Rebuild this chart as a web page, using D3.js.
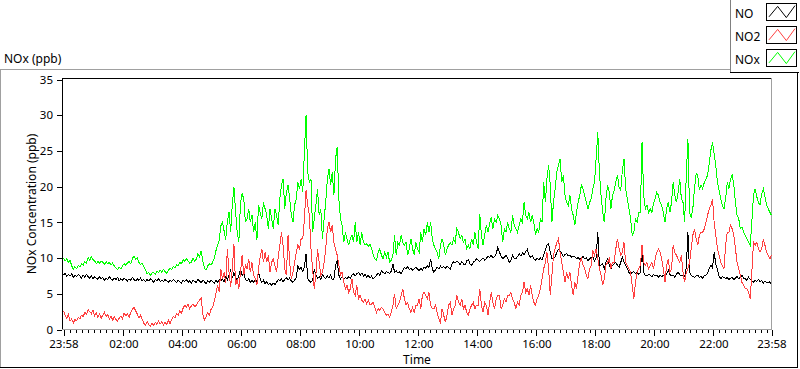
<!DOCTYPE html>
<html><head><meta charset="utf-8">
<script src="https://cdn.jsdelivr.net/npm/d3@7"></script>
<style>
html,body{margin:0;padding:0;background:#fff;}
svg{display:block;font-family:"Noto Sans",sans-serif;}
</style></head><body>
<svg id="chart" width="800" height="369"></svg>
<script>
// ---------- DATA ----------
const seriesNames = ["NO", "NO2", "NOx"];
const seriesColors = ["#000000", "#ff4040", "#00ff00"];
const startTime = "23:58";          // first sample (day 1)
const sampleSeconds = 200;          // spacing of samples
const yTicks = [0, 5, 10, 15, 20, 25, 30, 35];
const xTickLabels = ["23:58", "02:00", "04:00", "06:00", "08:00", "10:00", "12:00",
                     "14:00", "16:00", "18:00", "20:00", "22:00", "23:58"];
const yTitle = "NOx Concentration (ppb)";
const xTitle = "Time";
const panelTitle = "NOx (ppb)";

const noValues = [
7.6,7.9,7.4,7.7,7.5,7.8,7.3,7.6,7.4,7.7,7.5,7.2,7.6,7.3,7.7,7.4,7.2,7.5,7.1,7.4,
7.2,7.0,7.4,7.1,7.3,6.9,7.2,7.0,7.4,7.1,6.9,7.2,7.0,7.3,6.8,7.1,6.9,7.2,7.0,6.8,
7.1,6.9,7.3,7.0,6.8,7.1,6.9,7.2,6.8,7.0,6.7,7.0,6.8,7.1,6.9,6.6,7.0,6.8,7.1,6.7,
6.9,6.7,7.0,6.8,6.6,6.9,6.7,7.0,6.8,6.6,6.9,6.7,6.5,6.9,6.7,7.0,6.6,6.8,6.5,6.9,
6.7,6.6,7.0,6.8,6.5,6.9,6.7,6.4,6.8,6.6,6.9,6.7,6.5,6.9,6.6,7.0,6.8,7.1,6.7,7.4,
7.0,7.6,8.3,7.2,8.0,7.3,6.9,7.6,
8.5,7.6,7.9,7.0,6.8,7.1,6.6,6.9,6.6,7.0,6.7,8.0,7.1,6.6,6.9,6.4,6.7,6.3,6.5,6.2,
6.5,6.3,6.6,7.0,6.8,7.1,6.7,7.0,7.3,6.9,7.2,6.8,6.6,6.9,7.3,8.9,8.4,8.7,8.1,8.8,
10.6,7.1,6.8,6.6,6.9,8.4,7.6,7.2,7.4,7.0,7.7,7.3,7.1,7.5,7.2,7.6,7.0,7.1,9.0,9.7,
7.6,7.1,7.4,7.0,7.3,7.1,7.4,7.2,7.6,7.8,7.5,7.8,8.0,7.6,7.9,7.5,7.7,7.3,7.6,7.2,
7.5,7.1,7.3,7.6,7.9,7.6,8.2,8.0,7.8,8.1,8.0,7.8,8.2,9.2,8.0,8.2,7.9,8.1,7.8,8.2,
8.7,8.5,8.8,8.4,8.6,8.3,8.5,8.7,
8.5,8.2,8.6,8.3,8.7,8.6,8.9,8.7,9.9,8.5,8.0,8.4,8.7,8.5,8.9,8.6,8.8,8.5,8.9,8.7,
8.4,9.1,9.5,9.3,9.6,9.4,9.1,9.5,9.2,9.0,9.6,9.8,9.2,9.0,9.4,9.6,9.9,9.7,9.5,9.8,
10.0,9.7,9.9,10.3,10.1,10.4,10.0,10.2,10.6,11.5,10.8,10.3,9.9,10.1,10.4,10.0,9.4,9.7,10.4,10.0,
9.9,10.2,10.6,10.3,10.7,10.5,10.9,11.2,10.4,10.1,10.3,9.9,9.7,10.0,9.8,10.0,9.7,10.5,11.1,11.8,
12.0,10.8,9.9,10.0,10.2,10.8,11.2,11.0,10.7,10.2,10.5,10.6,10.3,10.4,10.1,10.3,10.2,9.9,10.1,9.8,
10.0,10.2,9.9,10.0,9.6,9.9,10.1,10.2,
9.6,10.0,13.6,9.0,9.0,9.2,8.5,9.4,9.9,9.0,8.5,9.0,9.2,9.4,9.0,8.7,9.4,10.1,9.4,9.0,
8.5,8.0,7.8,8.0,8.1,7.8,8.0,7.7,8.0,11.8,8.0,7.6,7.5,7.7,7.6,7.4,7.7,7.5,7.6,7.3,
7.6,7.4,7.6,7.3,7.8,8.3,7.7,7.5,7.6,7.3,7.8,8.0,7.7,7.5,7.6,7.4,8.6,13.6,8.0,7.6,
7.4,7.3,7.5,7.6,7.3,7.4,7.2,7.5,7.6,7.9,8.5,9.0,8.6,10.8,9.2,8.4,7.5,7.1,7.4,7.3,
7.1,7.3,7.0,7.2,7.3,7.0,7.2,7.4,7.1,7.3,7.6,7.2,7.1,6.9,7.3,7.0,6.8,6.6,6.9,6.7,
7.0,6.7,6.9,6.5,6.8,6.6,6.5,6.7,6.3
];

const no2Values = [
2.6,2.0,1.6,2.1,1.2,1.5,0.9,1.4,1.2,1.7,1.5,2.0,1.8,2.4,2.1,2.8,2.5,2.2,2.7,1.9,
2.3,1.7,2.2,1.6,2.0,2.4,1.8,2.1,1.5,1.9,1.3,1.8,1.4,1.2,1.6,1.9,1.5,2.3,1.9,2.2,
1.7,2.4,2.8,3.1,2.6,2.2,1.6,2.0,1.4,0.9,0.6,1.1,0.7,0.5,0.9,0.6,1.0,0.7,1.2,0.8,
1.1,0.6,1.0,0.7,1.3,0.8,1.4,1.8,1.6,2.2,2.0,2.6,2.3,3.0,3.4,3.1,3.5,2.9,3.3,3.6,
3.2,3.4,3.8,4.1,4.4,2.2,1.3,1.8,2.4,2.0,2.8,3.1,4.0,5.0,6.2,5.3,8.4,7.1,8.0,6.5,
11.3,8.0,6.0,8.5,12.0,6.2,7.0,5.7,
8.0,10.4,7.6,9.0,8.5,9.9,8.0,9.4,7.6,7.1,6.2,8.5,10.1,11.3,9.4,10.8,9.4,10.4,8.0,9.4,
9.9,9.0,8.0,10.1,11.8,13.6,11.8,8.5,7.6,13.2,9.4,7.1,8.0,9.4,10.8,11.8,11.3,12.7,12.7,15.5,
19.5,17.4,16.0,11.3,8.5,5.7,7.6,11.3,9.4,7.6,8.0,9.4,11.3,14.1,15.0,13.6,14.6,12.2,11.3,10.4,
9.0,7.6,8.0,6.6,5.7,6.2,5.2,5.7,7.1,5.2,4.8,6.2,4.3,4.8,4.1,3.8,4.3,3.6,4.1,3.4,
3.6,3.8,3.1,2.4,2.9,2.7,3.1,2.9,2.4,2.0,2.2,1.7,2.4,3.4,5.0,2.9,3.4,3.8,4.8,5.7,
4.3,3.4,3.8,2.9,2.4,3.1,2.4,3.4,
3.4,4.3,2.9,4.8,5.2,4.8,4.3,5.2,3.4,2.9,2.9,3.4,2.4,1.5,1.0,2.9,2.0,1.0,2.0,3.4,
3.8,2.0,2.9,3.4,4.8,3.8,3.4,4.3,2.9,3.4,2.4,2.0,2.9,3.4,3.8,2.9,3.4,3.4,5.7,3.4,
2.4,3.8,3.4,2.0,3.8,5.2,3.8,2.9,4.3,4.8,4.8,2.9,3.4,4.3,3.8,4.8,4.8,5.2,4.3,3.8,
2.9,3.8,3.4,4.8,5.2,6.6,5.2,5.7,4.8,6.2,4.8,3.8,3.4,4.3,4.8,5.7,7.1,8.5,9.4,10.8,
8.5,4.8,7.6,10.4,11.3,12.2,12.7,10.8,9.4,8.0,6.6,8.0,7.1,8.0,6.2,4.8,6.6,5.7,7.6,9.4,
9.9,9.0,8.5,7.6,7.1,8.5,9.0,11.1,
10.4,11.3,9.9,8.5,7.6,6.2,7.1,9.0,9.4,9.9,8.5,9.4,9.4,11.3,12.7,11.3,10.4,10.8,12.2,9.4,
9.0,8.5,8.0,6.2,4.3,6.6,8.0,8.5,9.0,11.8,9.4,9.0,9.4,8.5,9.0,9.4,8.5,9.9,10.8,11.3,
10.8,9.9,8.5,6.6,9.0,9.9,8.0,8.5,11.8,10.8,10.4,9.9,9.4,10.4,8.0,6.6,8.0,8.5,9.4,11.3,
13.2,14.1,12.7,11.8,13.2,13.6,13.6,14.1,15.0,16.0,16.9,17.4,18.3,15.0,13.2,11.3,10.4,9.4,9.0,8.5,
11.8,13.6,13.6,14.6,14.1,13.2,11.3,9.4,8.5,7.6,6.6,6.2,5.7,5.7,5.2,4.3,8.0,12.2,11.8,12.2,
11.3,10.8,11.3,12.7,11.8,10.8,10.4,9.9,10.4
];

const noxValues = [
10.0,9.6,9.9,9.4,9.7,8.9,8.4,8.8,8.5,9.0,8.8,9.2,9.0,9.5,9.3,10.1,9.7,10.2,9.8,9.6,
9.2,9.5,9.3,9.6,9.4,9.1,9.5,9.2,9.4,9.0,9.3,8.9,8.6,8.4,8.7,8.5,8.9,9.2,9.0,9.3,
9.5,9.2,9.9,10.3,9.8,10.0,9.4,9.1,9.3,8.8,8.4,7.8,8.0,7.6,7.9,8.0,7.7,8.2,8.0,8.3,
8.0,8.4,8.1,7.9,8.3,8.6,8.4,8.8,8.6,9.1,8.9,9.4,9.2,9.8,9.5,9.9,9.6,9.3,9.4,10.0,
9.6,9.8,10.6,10.2,11.0,9.6,8.6,8.3,8.9,9.2,9.0,9.4,10.0,11.0,11.8,12.4,14.5,15.0,13.8,12.6,
15.2,16.4,13.6,17.5,19.9,16.5,13.6,12.3,
17.8,19.0,18.3,15.0,15.5,16.9,15.0,16.0,13.6,15.0,12.5,17.4,16.4,15.5,17.8,16.9,16.0,14.1,16.9,15.5,
14.1,16.9,16.0,14.6,18.3,20.2,21.1,16.9,19.2,20.2,18.3,16.0,15.0,17.4,18.3,20.6,19.7,21.1,19.2,25.0,
30.0,22.0,20.6,21.1,13.6,15.5,17.4,19.7,16.0,16.9,12.7,15.5,17.8,21.1,22.5,20.2,22.0,18.8,23.9,25.5,
18.3,15.5,14.6,12.2,13.6,12.7,11.8,12.7,13.2,12.2,15.0,12.2,13.6,11.8,13.6,12.2,11.8,12.0,11.6,12.0,
11.3,10.4,9.9,9.7,10.8,11.3,10.4,9.9,10.8,10.1,10.8,9.4,9.7,10.4,13.2,10.4,12.2,11.8,13.2,12.2,
11.8,12.2,10.4,11.3,12.7,11.3,10.4,12.2,
11.3,10.8,13.6,12.2,14.1,13.2,15.0,13.6,15.0,12.7,11.8,11.3,10.8,9.9,11.8,12.7,11.8,10.4,11.3,11.8,
12.2,11.8,12.7,12.2,14.1,13.6,12.7,13.2,12.2,12.7,11.3,11.8,11.3,12.7,11.8,13.6,12.2,11.3,16.2,13.2,
11.8,13.2,14.6,13.6,14.8,15.7,14.1,15.5,15.0,16.0,15.5,14.6,12.2,14.1,13.6,15.0,14.1,13.6,16.0,14.6,
14.1,13.6,14.6,15.5,15.0,17.8,16.0,15.5,16.4,15.0,16.0,15.0,13.2,14.1,13.6,15.5,15.0,20.6,17.8,21.1,
23.0,20.2,15.0,17.8,19.7,22.0,23.0,23.9,20.6,21.6,18.8,17.8,17.4,18.8,16.9,16.0,14.6,16.4,17.8,18.8,
20.2,19.7,18.8,17.8,16.9,17.8,18.3,19.7,
20.6,23.9,27.6,22.0,18.8,16.4,15.0,18.3,20.2,19.2,16.9,18.8,19.5,20.6,21.6,19.9,19.5,22.3,23.9,19.7,
18.3,16.9,15.5,13.2,13.6,15.5,15.0,16.4,16.4,26.2,18.8,16.9,17.4,16.4,16.9,16.4,17.6,18.3,19.2,18.8,
17.8,17.4,16.4,15.0,16.9,17.8,16.4,17.8,20.6,18.8,17.8,19.2,21.1,18.3,17.8,15.0,21.6,26.7,16.4,15.7,
16.9,19.7,21.8,21.6,19.5,20.2,19.7,20.6,21.1,21.6,23.2,25.1,26.2,24.6,23.0,20.6,19.5,18.3,17.4,16.9,
18.3,20.6,19.7,21.1,21.6,20.2,17.8,16.0,15.5,14.1,14.3,13.6,13.2,12.7,12.2,11.8,15.0,18.8,19.7,18.6,
17.8,17.4,19.0,19.7,18.6,17.4,16.9,16.4,16.0
];

// ---------- CHART ----------
const svg = d3.select("#chart");
const [sh, sm] = startTime.split(":").map(Number);
const t0 = new Date(2000, 0, 1, sh, sm);
const t1 = d3.timeHour.offset(t0, 24);
const timeOf = i => d3.timeSecond.offset(t0, i * sampleSeconds);

const x = d3.scaleTime().domain([t0, t1]).range([63.5, 771.5]);
const y = d3.scaleLinear().domain([0, 35]).range([329.5, 79.5]);

// Outer panel frame
const seg = (x1, y1, x2, y2, c) => svg.append("line")
  .attr("x1", x1).attr("y1", y1).attr("x2", x2).attr("y2", y2)
  .attr("stroke", c).attr("stroke-width", 1).attr("shape-rendering", "crispEdges");
seg(0, 69.5, 731, 69.5, "#a0a0a0");
seg(0.5, 69, 0.5, 368, "#a0a0a0");
seg(0, 367.5, 798, 367.5, "#000");
seg(797.5, 72, 797.5, 368, "#000");

// Panel title
svg.append("text").attr("x", 4).attr("y", 62.5)
  .attr("font-size", 12).attr("fill", "#000").text(panelTitle);

// Plot frame
seg(62, 78.5, 772, 78.5, "#000");
seg(62.5, 78, 62.5, 330, "#000");
seg(771.5, 78, 771.5, 330, "#a0a0a0");
seg(62, 329.5, 772, 329.5, "#a0a0a0");

// Data lines (NO first, then NO2, NOx on top)
const allSeries = [noValues, no2Values, noxValues];
const line = d3.line().x((d, i) => x(timeOf(i))).y(d => y(d));
allSeries.forEach((vals, s) => {
  svg.append("path").datum(vals)
    .attr("d", line)
    .attr("fill", "none")
    .attr("stroke", seriesColors[s])
    .attr("stroke-width", 1)
    .attr("shape-rendering", "crispEdges");
});

// Y axis
const yAxis = d3.axisLeft(y).tickValues(yTicks).tickSize(5).tickPadding(4);
const gy = svg.append("g").attr("transform", "translate(62,0)").call(yAxis);
gy.select(".domain").remove();
gy.selectAll("line").attr("stroke", "#000").attr("shape-rendering", "crispEdges");
gy.selectAll("text").attr("font-size", 11.5).attr("font-family", "Noto Sans").attr("fill", "#000");

// X axis
const majorDates = xTickLabels.map((lab, i) => {
  if (i === 0) return t0;
  if (i === xTickLabels.length - 1) return t1;
  const [h, m] = lab.split(":").map(Number);
  return new Date(2000, 0, 2, h, m);
});
const minorDates = d3.timeMinute.every(12).range(t0, t1);
const gxMinor = svg.append("g").attr("transform", "translate(0,330)")
  .call(d3.axisBottom(x).tickValues(minorDates).tickSize(3).tickFormat(""));
gxMinor.select(".domain").remove();
gxMinor.selectAll("line").attr("stroke", "#000").attr("shape-rendering", "crispEdges");
const gx = svg.append("g").attr("transform", "translate(0,330)")
  .call(d3.axisBottom(x).tickValues(majorDates).tickSize(6).tickPadding(4)
    .tickFormat((d, i) => xTickLabels[i]));
gx.select(".domain").remove();
gx.selectAll("line").attr("stroke", "#000").attr("shape-rendering", "crispEdges");
gx.selectAll("text").attr("font-size", 11.5).attr("font-family", "Noto Sans").attr("fill", "#000");

// Axis titles
svg.append("text").attr("transform", "translate(36,204) rotate(-90)")
  .attr("text-anchor", "middle").attr("font-size", 12).attr("fill", "#000").text(yTitle);
svg.append("text").attr("x", 417).attr("y", 364)
  .attr("text-anchor", "middle").attr("font-size", 12).attr("fill", "#000").text(xTitle);

// Legend
seg(730.5, 0, 730.5, 73, "#808080");
seg(730, 72.5, 799, 72.5, "#000");
const lg = svg.append("g");
seriesNames.forEach((name, i) => {
  const top = 3 + i * 23;
  lg.append("text").attr("x", 735).attr("y", top + 14.5)
    .attr("font-size", 12).attr("fill", "#000").text(name);
  lg.append("rect").attr("x", 766.5).attr("y", top + 0.5).attr("width", 30).attr("height", 17)
    .attr("fill", "#fff").attr("stroke", "#000").attr("shape-rendering", "crispEdges");
  const sx = d3.scaleLinear().domain([0, 3]).range([769, 795]);
  const zig = [0.8, 0.15, 0.85, 0.1];
  lg.append("path").datum(zig)
    .attr("d", d3.line().x((d, k) => sx(k)).y(d => top + 1 + d * 16))
    .attr("fill", "none").attr("stroke", seriesColors[i]).attr("stroke-width", 1);
});
</script>
</body></html>
